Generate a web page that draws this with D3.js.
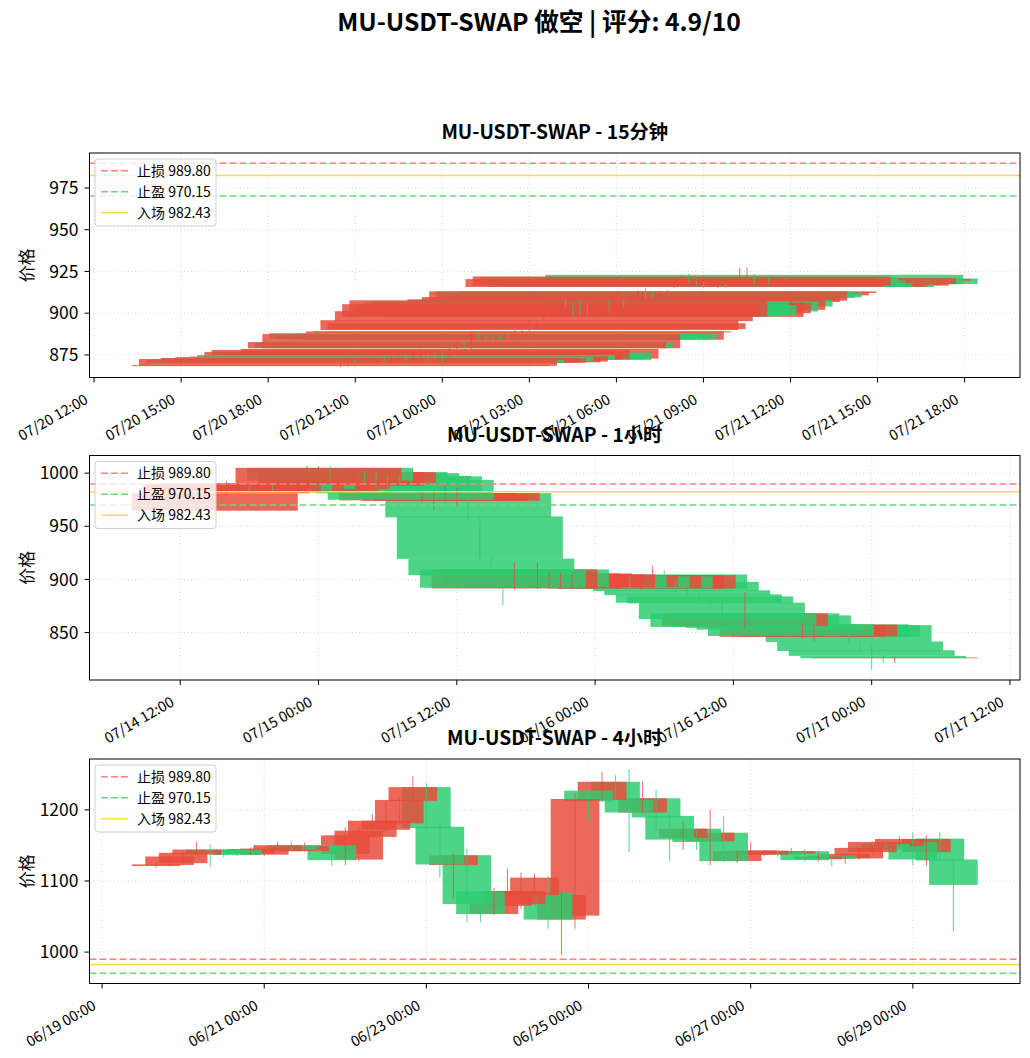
<!DOCTYPE html>
<html>
<head>
<meta charset="utf-8">
<script src="https://cdn.jsdelivr.net/npm/d3@7"></script>
<style>
  body { margin: 0; background: #fff; }
  svg text { font-family: "Noto Sans CJK SC", "Noto Sans", sans-serif; fill: #000; }
</style>
</head>
<body>
<svg id="chart" width="1030" height="1058"></svg>
<script>
const stopLoss = 989.80, takeProfit = 970.15, entry = 982.43;

// 15m candles, oldest first, from 07/20 20:30
const start15m = Date.UTC(2025, 6, 20, 20, 30);
const open15m  = [868.3,868.5,872.0,870.4,870.5,870.3,873.8,870.6,871.0,875.0,872.2,872.5,875.5,876.0,876.4,872.8,879.0,882.5,879.0,888.1,
                  887.0,887.5,886.5,887.8,884.1,888.5,889.9,890.5,895.2,897.8,898.0,905.0,906.0,907.1,904.8,897.8,900.0,907.0,902.0,908.0,
                  906.7,907.5,913.0,912.5,910.7,912.1,915.7,916.5,921.5,919.5,918.0,916.0,915.8,917.0,916.8,916.5,917.5,923.0,919.4,920.8];
const close15m = [868.9,872.6,870.2,872.3,873.2,872.8,871.2,873.5,874.0,872.0,876.8,878.0,872.3,872.4,872.0,878.6,882.7,879.5,887.5,884.8,
                  884.5,885.0,884.3,884.6,889.1,889.1,895.8,894.0,901.2,905.4,907.7,898.5,898.0,899.0,898.5,906.5,906.0,901.0,908.3,904.0,
                  909.7,913.1,909.1,909.5,912.8,913.0,920.4,922.0,918.5,916.0,915.7,917.5,917.4,915.7,917.4,918.0,921.0,917.4,920.4,917.4];
const high15m  = [869.5,873.2,872.8,873.0,873.8,873.4,874.5,874.0,874.6,875.6,877.4,878.6,876.0,876.6,877.0,879.2,883.4,883.0,888.2,888.8,
                  887.6,888.0,887.0,888.3,889.8,889.7,896.5,894.8,902.0,906.0,908.4,908.9,906.6,907.8,905.5,907.2,906.8,907.6,909.0,908.8,
                  910.4,913.8,915.0,913.2,913.5,913.6,921.2,922.8,923.6,920.2,918.8,918.2,918.0,917.6,918.0,927.0,927.4,923.5,921.0,921.4];
const low15m   = [867.6,868.0,869.8,870.0,870.0,869.6,870.8,870.2,870.5,871.5,871.8,872.0,871.8,872.0,871.4,872.3,878.5,879.0,878.4,884.2,
                  884.0,884.6,883.8,884.0,883.6,887.9,889.4,890.0,894.6,897.2,897.5,903.2,897.4,898.4,897.9,897.2,899.4,900.4,901.4,903.4,
                  906.2,907.0,908.5,909.0,910.2,911.6,915.2,916.0,918.0,915.5,915.2,915.5,915.2,915.2,916.3,916.0,917.0,916.9,919.0,916.9];

// 1h candles, oldest first, from 07/14 15:00
const start1h = Date.UTC(2025, 6, 14, 15, 0);
const open1h  = [964.7,981.0,982.0,990.0,984.0,989.0,984.0,983.0,985.0,990.6,1005.0,988.0,990.0,1001.0,1000.0,997.5,997.0,993.7,974.4,975.0,
                 974.0,974.0,981.2,959.3,919.6,909.4,891.5,909.4,892.0,893.0,893.0,892.5,904.0,893.0,903.0,892.0,903.0,891.2,891.5,904.7,
                 897.8,889.7,885.9,884.0,878.1,868.1,856.0,868.1,866.2,857.8,857.8,846.0,846.5,857.8,857.0,857.0,841.6,833.4,828.1,825.9];
const close1h = [981.0,990.0,989.0,983.5,990.3,985.0,990.0,988.0,990.0,1005.0,993.0,1001.0,1001.0,990.0,985.0,982.0,981.0,975.0,981.0,981.2,
                 980.0,981.2,958.4,919.4,904.0,892.2,909.4,893.0,905.6,905.6,904.7,904.7,892.0,904.0,892.0,904.0,891.5,904.0,904.0,891.2,
                 889.0,885.3,878.1,877.5,862.8,855.3,868.1,855.3,854.5,852.8,846.8,857.0,857.5,846.0,846.0,841.2,832.7,828.1,825.9,826.6];
const high1h  = [983.0,993.0,990.5,991.0,991.5,990.5,991.0,989.5,1007.0,1006.0,1006.5,1002.0,1002.5,1002.0,1001.0,998.5,998.0,995.0,982.0,984.0,
                 988.0,986.0,982.0,960.5,921.0,911.0,916.0,910.5,916.0,907.8,906.0,906.0,905.0,905.5,904.0,905.0,904.0,905.0,913.0,908.4,
                 899.0,891.0,887.0,885.0,879.0,869.0,888.0,869.0,867.0,859.0,859.0,858.0,858.5,859.0,858.0,858.0,843.0,837.5,829.0,827.5];
const low1h   = [963.5,979.5,980.5,982.0,983.0,983.5,982.5,981.5,984.0,989.0,991.5,986.5,988.5,988.0,983.5,980.5,979.5,973.5,973.0,965.6,
                 972.0,969.0,956.0,917.0,902.0,875.9,890.5,891.0,891.0,892.0,892.0,891.5,890.5,892.0,890.5,891.0,890.0,890.0,890.5,890.0,
                 887.5,884.0,876.5,876.0,861.0,854.0,853.0,854.0,853.0,851.5,845.5,845.0,842.0,844.5,844.5,840.0,831.5,815.0,821.3,821.3];

// 4h candles, oldest first, from 06/19 16:00
const start4h = Date.UTC(2025, 5, 19, 16, 0);
const open4h  = [1121.0,1122.4,1125.0,1137.0,1144.2,1143.0,1144.0,1138.6,1137.0,1142.0,1150.3,1142.0,1150.0,1150.3,1138.0,1130.0,1162.0,1172.0,1181.0,1212.6,
                 1232.0,1176.3,1122.4,1136.3,1085.2,1053.6,1065.0,1067.5,1080.0,1083.8,1045.7,1051.2,1227.0,1214.0,1239.5,1214.0,1196.3,1216.3,1191.6,1160.5,
                 1173.5,1155.8,1167.9,1128.0,1137.2,1137.2,1141.0,1138.6,1141.9,1130.5,1136.0,1132.0,1131.7,1140.5,1152.1,1148.9,1154.9,1140.5,1159.6,1130.3];
const close4h = [1123.3,1134.4,1139.6,1144.2,1139.0,1139.0,1136.5,1145.0,1145.5,1150.3,1144.5,1149.0,1142.0,1129.3,1164.2,1170.7,1184.7,1184.7,1214.0,1232.0,
                 1174.4,1123.3,1136.0,1067.5,1053.6,1067.5,1086.0,1086.0,1104.7,1045.7,1080.0,1215.3,1212.0,1239.5,1214.0,1196.3,1216.3,1189.3,1158.2,1173.5,
                 1154.9,1167.9,1128.0,1141.9,1142.8,1142.8,1137.0,1141.9,1129.3,1134.4,1131.0,1138.0,1146.5,1154.9,1144.2,1159.1,1130.3,1159.1,1128.9,1094.5];
const high4h  = [1127.9,1136.0,1141.0,1154.9,1152.0,1145.0,1145.5,1147.0,1149.0,1155.0,1155.5,1154.0,1152.0,1152.0,1175.4,1176.0,1194.0,1211.6,1218.0,1247.4,
                 1238.1,1181.4,1138.6,1145.6,1086.0,1089.8,1117.2,1111.7,1110.5,1107.0,1085.0,1223.2,1229.0,1253.5,1248.8,1257.2,1240.4,1227.9,1193.0,1183.7,
                 1174.4,1200.0,1191.6,1143.0,1154.4,1143.5,1142.0,1146.5,1145.1,1141.9,1138.6,1139.0,1147.0,1155.5,1153.0,1162.8,1168.4,1164.2,1168.4,1132.6];
const low4h   = [1118.6,1120.5,1123.5,1135.5,1119.6,1133.0,1135.0,1136.5,1135.0,1141.0,1143.0,1141.5,1140.0,1121.0,1122.4,1128.0,1160.0,1167.0,1179.0,1210.0,
                 1172.0,1104.7,1076.8,1041.9,1041.9,1052.2,1053.6,1060.5,1066.0,1032.6,995.4,1032.6,1183.7,1212.0,1212.0,1140.5,1195.4,1172.1,1127.9,1144.2,
                 1143.3,1122.4,1126.5,1125.6,1136.0,1134.9,1134.0,1138.2,1127.9,1127.0,1121.0,1124.2,1130.0,1137.2,1143.5,1148.0,1122.4,1121.0,1127.9,1028.9];

const yTicks15m = [875, 900, 925, 950, 975];
const yTicks1h  = [850, 900, 950, 1000];
const yTicks4h  = [1000, 1100, 1200];

const upColor = "#e74c3c", downColor = "#2ecc71";
const svg = d3.select("#chart");
const L = 89.5, R = 1020, H = 224.5;
const fmt = d3.utcFormat("%m/%d %H:%M");

svg.append("text")
  .attr("x", 539).attr("y", 31)
  .attr("text-anchor", "middle")
  .style("font-size", "24.7px").style("font-weight", "bold")
  .text("MU-USDT-SWAP 做空 | 评分: 4.9/10");

function panel(cfg) {
  const top = cfg.top;
  const candles = cfg.open.map((o, i) => ({
    t: new Date(cfg.start + i * cfg.step),
    o: o, h: cfg.high[i], l: cfg.low[i], c: cfg.close[i]
  }));
  const half = 0.3 * 864e5; // bar width 0.6 day
  const t0 = +candles[0].t - half, t1 = +candles[candles.length - 1].t + half;
  const xp = (t1 - t0) * 0.05;
  const x = d3.scaleUtc().domain([t0 - xp, t1 + xp]).range([L, R]);
  const lo = d3.min([...cfg.low, stopLoss, takeProfit, entry]);
  const hi = d3.max([...cfg.high, stopLoss, takeProfit, entry]);
  const yp = (hi - lo) * 0.05;
  const y = d3.scaleLinear().domain([lo - yp, hi + yp]).range([top + H, top]);

  const g = svg.append("g");
  const clipId = "clip" + cfg.id;
  g.append("clipPath").attr("id", clipId)
    .append("rect").attr("x", L).attr("y", top).attr("width", R - L).attr("height", H);

  const xTicks = x.ticks(cfg.every);

  // grid
  const grid = g.append("g").attr("stroke", "#cfcfcf").attr("stroke-width", 0.8)
    .attr("stroke-dasharray", "1,2.5");
  grid.selectAll("line.gx").data(xTicks).join("line")
    .attr("x1", d => x(d)).attr("x2", d => x(d)).attr("y1", top).attr("y2", top + H);
  grid.selectAll("line.gy").data(cfg.yTicks).join("line")
    .attr("x1", L).attr("x2", R).attr("y1", d => y(d)).attr("y2", d => y(d));

  const plot = g.append("g").attr("clip-path", `url(#${clipId})`);

  // exchange data comes newest first, so the oldest candle is drawn last (on top)
  const drawOrder = candles.slice().reverse();
  plot.append("g").selectAll("rect").data(drawOrder).join("rect")
    .attr("x", d => x(+d.t - half))
    .attr("width", d => x(+d.t + half) - x(+d.t - half))
    .attr("y", d => y(Math.max(d.o, d.c)))
    .attr("height", d => Math.max(0.8, Math.abs(y(d.o) - y(d.c))))
    .attr("fill", d => d.c >= d.o ? upColor : downColor)
    .attr("fill-opacity", 0.85);

  plot.append("g").selectAll("line").data(drawOrder).join("line")
    .attr("x1", d => x(d.t)).attr("x2", d => x(d.t))
    .attr("y1", d => y(d.h)).attr("y2", d => y(d.l))
    .attr("stroke", d => d.c >= d.o ? upColor : downColor)
    .attr("stroke-width", 1)
    .attr("stroke-opacity", 0.8);

  // levels
  const levels = [
    { v: stopLoss, color: "#ff8080", dash: "7,3", w: 1.5, label: "止损 " + stopLoss.toFixed(2) },
    { v: takeProfit, color: "#6fd57a", dash: "7,3", w: 1.5, label: "止盈 " + takeProfit.toFixed(2) },
    { v: entry, color: "#ffd84d", dash: null, w: 1.5, label: "入场 " + entry.toFixed(2) }
  ];
  plot.selectAll("line.lvl").data(levels).join("line")
    .attr("class", "lvl")
    .attr("x1", L).attr("x2", R)
    .attr("y1", d => y(d.v)).attr("y2", d => y(d.v))
    .attr("stroke", d => d.color).attr("stroke-width", d => d.w)
    .attr("stroke-dasharray", d => d.dash);

  // frame
  g.append("rect").attr("x", L).attr("y", top).attr("width", R - L).attr("height", H)
    .attr("fill", "none").attr("stroke", "#000").attr("stroke-width", 1);

  // y axis
  const ya = g.append("g");
  ya.selectAll("line").data(cfg.yTicks).join("line")
    .attr("x1", L - 5).attr("x2", L).attr("y1", d => y(d)).attr("y2", d => y(d))
    .attr("stroke", "#000");
  ya.selectAll("text").data(cfg.yTicks).join("text")
    .attr("x", L - 11).attr("y", d => y(d)).attr("dy", "0.35em")
    .attr("text-anchor", "end").style("font-size", "17.5px")
    .text(d => d);
  g.append("text")
    .attr("transform", `translate(33,${top + H / 2}) rotate(-90)`)
    .attr("text-anchor", "middle").style("font-size", "17px")
    .text("价格");

  // x axis
  const xa = g.append("g");
  xa.selectAll("line").data(xTicks).join("line")
    .attr("x1", d => x(d)).attr("x2", d => x(d)).attr("y1", top + H).attr("y2", top + H + 5)
    .attr("stroke", "#000");
  xa.selectAll("text").data(xTicks).join("text")
    .attr("transform", d => `translate(${x(d) - 5},${top + H + 25}) rotate(-30)`)
    .attr("text-anchor", "end").style("font-size", "14.5px")
    .text(d => fmt(d));

  // title
  g.append("text")
    .attr("x", (L + R) / 2).attr("y", top - 14)
    .attr("text-anchor", "middle")
    .style("font-size", "19.3px").style("font-weight", "bold")
    .text(cfg.title);

  // legend
  const lg = g.append("g").attr("transform", `translate(95,${top + 6})`);
  lg.append("rect").attr("width", 121).attr("height", 67).attr("rx", 3)
    .attr("fill", "#fff").attr("fill-opacity", 0.8).attr("stroke", "#d0d0d0");
  const rows = lg.selectAll("g").data(levels).join("g")
    .attr("transform", (d, i) => `translate(0,${11.7 + i * 21})`);
  rows.append("line").attr("x1", 6).attr("x2", 33)
    .attr("stroke", d => d.color).attr("stroke-width", d => d.w)
    .attr("stroke-dasharray", d => d.dash);
  rows.append("text").attr("x", 42).attr("dy", "0.35em")
    .style("font-size", "14px").text(d => d.label);
}

panel({ id: 1, title: "MU-USDT-SWAP - 15分钟", top: 153, start: start15m, step: 15 * 6e4,
  open: open15m, high: high15m, low: low15m, close: close15m, yTicks: yTicks15m, every: d3.utcHour.every(3) });
panel({ id: 2, title: "MU-USDT-SWAP - 1小时", top: 455.5, start: start1h, step: 36e5,
  open: open1h, high: high1h, low: low1h, close: close1h, yTicks: yTicks1h, every: d3.utcHour.every(12) });
panel({ id: 3, title: "MU-USDT-SWAP - 4小时", top: 759, start: start4h, step: 4 * 36e5,
  open: open4h, high: high4h, low: low4h, close: close4h, yTicks: yTicks4h, every: d3.utcDay.every(2) });
</script>
</body>
</html>
